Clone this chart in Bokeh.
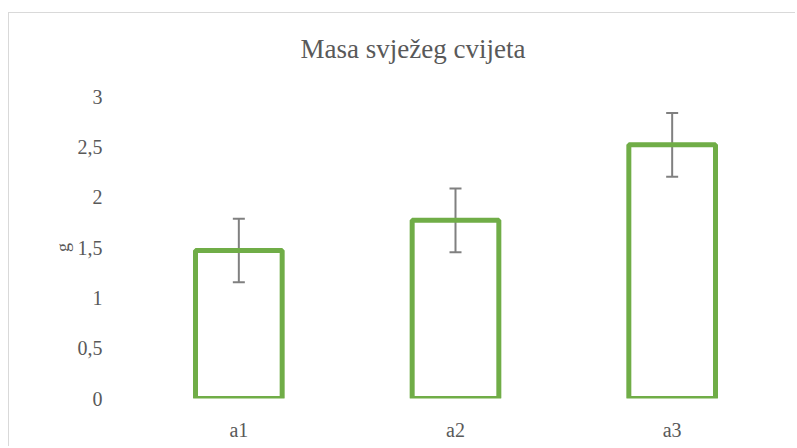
from bokeh.plotting import figure
from bokeh.models import ColumnDataSource, Whisker, FixedTicker, Title, TeeHead
from bokeh.embed import file_html
from bokeh.resources import INLINE

categories = ["a1", "a2", "a3"]
values = [1.47, 1.77, 2.52]
errors = [0.315, 0.316, 0.316]
y_ticks = [0, 0.5, 1, 1.5, 2, 2.5, 3]
y_tick_labels = ["0", "0,5", "1", "1,5", "2", "2,5", "3"]
title_text = "Masa svježeg cvijeta"

FONT = "Liberation Serif"
TXT = "#595959"

src = ColumnDataSource(dict(
    x=categories,
    top=values,
    upper=[v + e for v, e in zip(values, errors)],
    lower=[v - e for v, e in zip(values, errors)],
))

p = figure(x_range=categories, y_range=(0, 3), width=787, height=434,
           output_backend="svg", toolbar_location=None,
           min_border_left=121, min_border_right=16,
           min_border_top=83, min_border_bottom=49)
p.styles = {"margin-left": "8px", "margin-top": "12px",
            "border-top": "1px solid #d9d9d9", "border-left": "1px solid #d9d9d9"}
p.outline_line_color = None
p.xgrid.grid_line_color = None
p.ygrid.grid_line_color = None

p.vbar(x="x", top="top", bottom=0, width=0.4, source=src,
       fill_color=None, line_color="#70AD47", line_width=5)

w = Whisker(base="x", upper="upper", lower="lower", source=src,
            line_color="#808080", line_width=2)
w.upper_head = TeeHead(size=12, line_color="#808080", line_width=2)
w.lower_head = TeeHead(size=12, line_color="#808080", line_width=2)
p.add_layout(w)

p.yaxis.ticker = FixedTicker(ticks=y_ticks)
p.yaxis.major_label_overrides = {t: l for t, l in zip(y_ticks, y_tick_labels)}
for ax in (p.xaxis, p.yaxis):
    ax.axis_line_color = None
    ax.major_tick_line_color = None
    ax.minor_tick_line_color = None
    ax.major_label_text_font = FONT
    ax.major_label_text_font_size = "20px"
    ax.major_label_text_color = TXT
p.yaxis.major_label_standoff = 22
p.xaxis.major_label_standoff = 14
p.yaxis.axis_label = "g"
p.yaxis.axis_label_text_font = FONT
p.yaxis.axis_label_text_font_size = "18px"
p.yaxis.axis_label_text_font_style = "normal"
p.yaxis.axis_label_text_color = TXT
p.yaxis.axis_label_standoff = 2

spacer = Title(text=" ", text_font_size="1px", standoff=25)
p.add_layout(spacer, "above")
t = Title(text=title_text, align="left", offset=170, standoff=10,
          text_font=FONT, text_font_size="27px", text_font_style="normal",
          text_color=TXT)
p.add_layout(t, "above")

open("out.html", "w").write(file_html(p, INLINE))
